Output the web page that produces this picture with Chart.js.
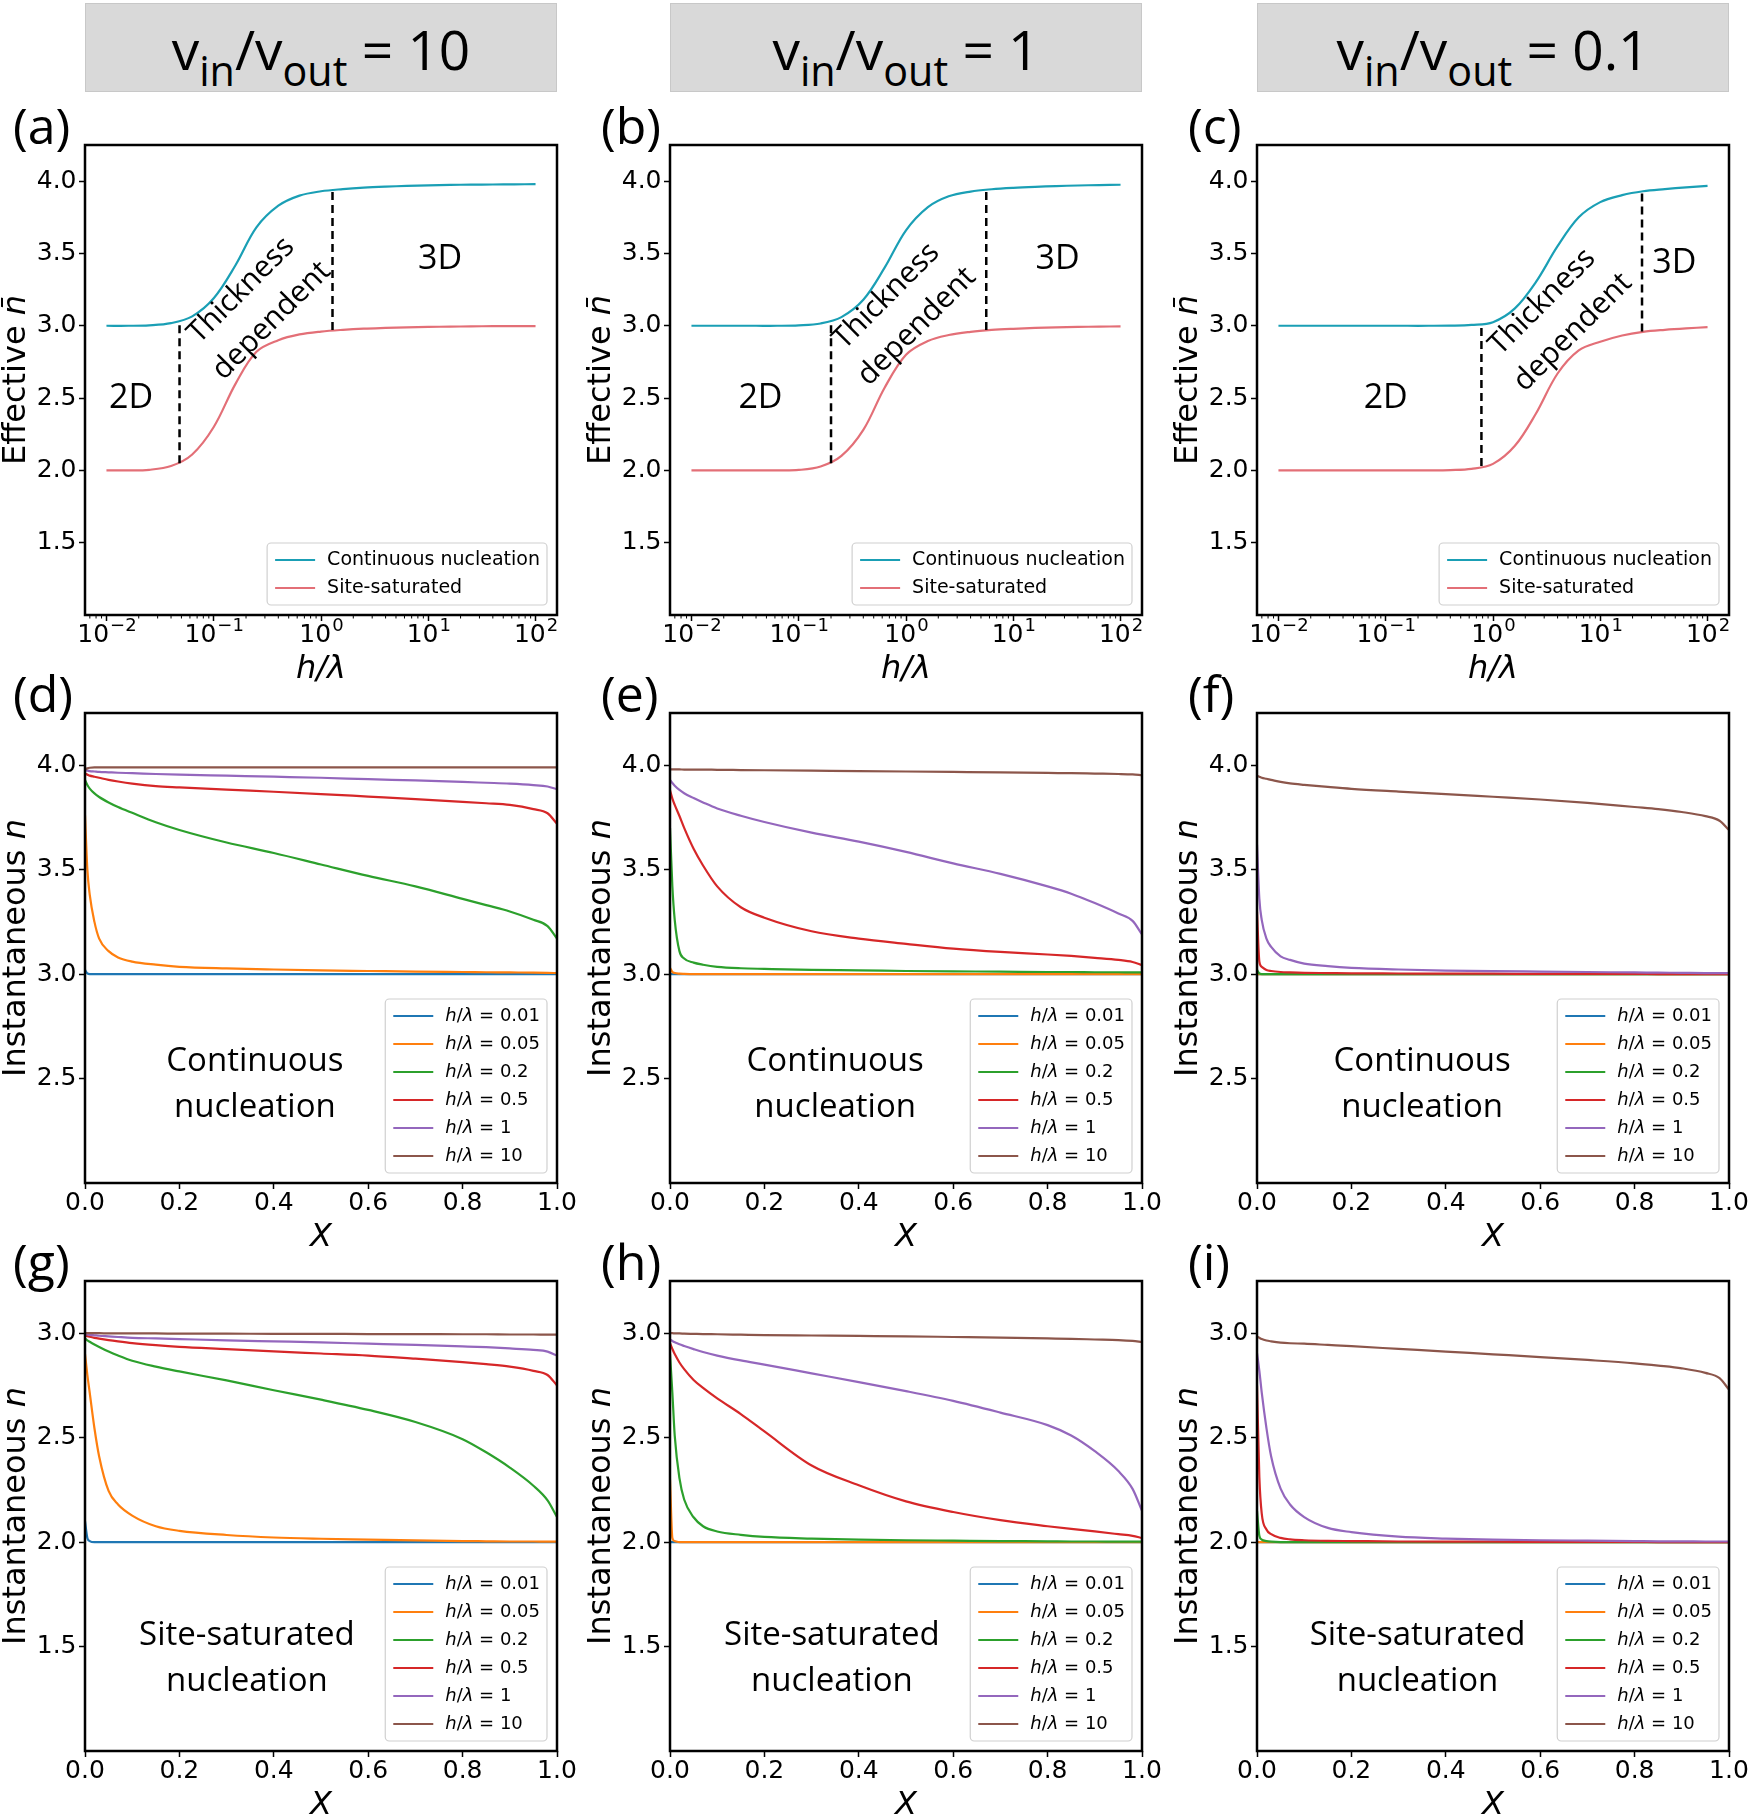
<!DOCTYPE html>
<html>
<head>
<meta charset="utf-8">
<script src="https://cdn.jsdelivr.net/npm/chart.js@4.4.1/dist/chart.umd.min.js"></script>
<style>
	body { margin: 0; width: 1750px; height: 1817px; position: relative; overflow: hidden; background: #fff; font-family: 'Open Sans', sans-serif; }
	.hdr { position: absolute; top: 3px; height: 89px; box-sizing: border-box; padding-top: 17px; background: #d9d9d9; border: 1px solid #c8c8c8; text-align: center; font-size: 55px; line-height: 55px; color: #000; white-space: nowrap; }
	.hdr sub { font-size: 0.75em; vertical-align: -16px; line-height: 0; }
	.lbl { position: absolute; font-size: 50px; line-height: 50px; color: #000; }
	canvas { position: absolute; }
</style>
</head>
<body>
<div class="hdr" style="left:85px;width:472px">v<sub>in</sub>/v<sub>out</sub> = 10</div>
<div class="hdr" style="left:670px;width:472px">v<sub>in</sub>/v<sub>out</sub> = 1</div>
<div class="hdr" style="left:1257px;width:472px">v<sub>in</sub>/v<sub>out</sub> = 0.1</div>

<div class="lbl" style="left:13px;top:100px">(a)</div>
<div class="lbl" style="left:601px;top:100px">(b)</div>
<div class="lbl" style="left:1188px;top:100px">(c)</div>
<div class="lbl" style="left:13px;top:668px">(d)</div>
<div class="lbl" style="left:601px;top:668px">(e)</div>
<div class="lbl" style="left:1188px;top:668px">(f)</div>
<div class="lbl" style="left:13px;top:1236px">(g)</div>
<div class="lbl" style="left:601px;top:1236px">(h)</div>
<div class="lbl" style="left:1188px;top:1236px">(i)</div>

<canvas id="pa" width="586" height="557" style="left:1px;top:130px"></canvas>
<canvas id="pb" width="586" height="557" style="left:586px;top:130px"></canvas>
<canvas id="pc" width="586" height="557" style="left:1173px;top:130px"></canvas>
<canvas id="pd" width="586" height="557" style="left:1px;top:698px"></canvas>
<canvas id="pe" width="586" height="557" style="left:586px;top:698px"></canvas>
<canvas id="pf" width="586" height="557" style="left:1173px;top:698px"></canvas>
<canvas id="pg" width="586" height="557" style="left:1px;top:1266px"></canvas>
<canvas id="ph" width="586" height="557" style="left:586px;top:1266px"></canvas>
<canvas id="pi" width="586" height="557" style="left:1173px;top:1266px"></canvas>

<script>
// ---- top row: effective n vs h/lambda ----
const hOverLambda = [0.01, 0.016, 0.025, 0.04, 0.063, 0.1, 0.16, 0.25, 0.4, 0.63, 1, 1.6, 2.5, 4, 6.3, 10, 16, 25, 40, 63, 100];
const effCont_v10 = [3.0, 3.0, 3.003, 3.018, 3.065, 3.19, 3.42, 3.68, 3.83, 3.90, 3.93, 3.945, 3.955, 3.962, 3.967, 3.971, 3.974, 3.976, 3.977, 3.978, 3.979];
const effSite_v10 = [2.0, 2.0, 2.004, 2.03, 2.11, 2.30, 2.60, 2.82, 2.90, 2.94, 2.96, 2.972, 2.98, 2.985, 2.989, 2.992, 2.994, 2.996, 2.997, 2.998, 2.998];
const effCont_v1 = [3.0, 3.0, 3.0, 3.0, 3.0, 3.003, 3.016, 3.06, 3.18, 3.40, 3.66, 3.82, 3.895, 3.928, 3.944, 3.954, 3.961, 3.966, 3.970, 3.973, 3.975];
const effSite_v1 = [2.0, 2.0, 2.0, 2.0, 2.0, 2.003, 2.027, 2.10, 2.28, 2.57, 2.80, 2.895, 2.936, 2.958, 2.971, 2.979, 2.985, 2.989, 2.992, 2.994, 2.996];
const effCont_v01 = [3.0, 3.0, 3.0, 3.0, 3.0, 3.0, 3.0, 3.0, 3.001, 3.006, 3.025, 3.12, 3.30, 3.55, 3.75, 3.855, 3.903, 3.93, 3.945, 3.957, 3.967];
const effSite_v01 = [2.0, 2.0, 2.0, 2.0, 2.0, 2.0, 2.0, 2.0, 2.002, 2.01, 2.045, 2.17, 2.39, 2.67, 2.83, 2.89, 2.933, 2.958, 2.972, 2.982, 2.99];
// regime boundaries: [h/lambda, lower n, upper n]
const bounds_v10 = [[0.048, 2.05, 3.03], [1.28, 2.97, 3.935]];
const bounds_v1 = [[0.2, 2.05, 3.03], [5.6, 2.97, 3.93]];
const bounds_v01 = [[0.78, 2.03, 3.01], [24.5, 2.96, 3.93]];
const effLabels = ['Continuous nucleation', 'Site-saturated'];
const effColors = ['#1a9fb5', '#e36f77'];

// ---- rows 2 and 3: instantaneous n vs X ----
const Xfrac = [0, 0.005, 0.01, 0.02, 0.03, 0.05, 0.07, 0.1, 0.15, 0.2, 0.3, 0.4, 0.5, 0.6, 0.7, 0.8, 0.85, 0.9, 0.95, 0.98, 1.0];
const hLabels = ['h/λ = 0.01', 'h/λ = 0.05', 'h/λ = 0.2', 'h/λ = 0.5', 'h/λ = 1', 'h/λ = 10'];
const hColors = ['#1f77b4', '#ff7f0e', '#2ca02c', '#d62728', '#9467bd', '#8c564b'];

const instCont_v10 = [
	[3.02, 3.003, 3.0, 3.0, 3.0, 3.0, 3.0, 3.0, 3.0, 3.0, 3.0, 3.0, 3.0, 3.0, 3.0, 3.0, 3.0, 3.0, 3.0, 3.0, 3.0],
	[3.76, 3.5, 3.38, 3.25, 3.17, 3.11, 3.08, 3.06, 3.045, 3.035, 3.027, 3.022, 3.018, 3.015, 3.012, 3.01, 3.009, 3.008, 3.007, 3.006, 3.005],
	[3.93, 3.905, 3.888, 3.865, 3.848, 3.822, 3.80, 3.772, 3.727, 3.69, 3.63, 3.58, 3.525, 3.47, 3.42, 3.36, 3.33, 3.30, 3.26, 3.23, 3.17],
	[3.96, 3.955, 3.95, 3.945, 3.94, 3.93, 3.922, 3.912, 3.90, 3.894, 3.883, 3.873, 3.862, 3.85, 3.838, 3.825, 3.818, 3.81, 3.79, 3.77, 3.72],
	[3.975, 3.974, 3.972, 3.97, 3.968, 3.966, 3.964, 3.962, 3.958, 3.955, 3.95, 3.945, 3.94, 3.933, 3.927, 3.92, 3.916, 3.912, 3.905, 3.898, 3.885],
	[3.98, 3.985, 3.988, 3.99, 3.99, 3.99, 3.99, 3.99, 3.99, 3.99, 3.99, 3.99, 3.99, 3.99, 3.99, 3.99, 3.99, 3.99, 3.99, 3.99, 3.99]
];
const instCont_v1 = [
	[3.0, 3.0, 3.0, 3.0, 3.0, 3.0, 3.0, 3.0, 3.0, 3.0, 3.0, 3.0, 3.0, 3.0, 3.0, 3.0, 3.0, 3.0, 3.0, 3.0, 3.0],
	[3.03, 3.01, 3.005, 3.002, 3.001, 3.0, 3.0, 3.0, 3.0, 3.0, 3.0, 3.0, 3.0, 3.0, 3.0, 3.0, 3.0, 3.0, 3.0, 3.0, 3.0],
	[3.70, 3.42, 3.26, 3.11, 3.075, 3.055, 3.045, 3.035, 3.028, 3.025, 3.02, 3.018, 3.015, 3.013, 3.012, 3.01, 3.01, 3.009, 3.009, 3.008, 3.008],
	[3.88, 3.84, 3.81, 3.757, 3.70, 3.60, 3.52, 3.42, 3.32, 3.27, 3.205, 3.17, 3.145, 3.122, 3.106, 3.094, 3.087, 3.078, 3.068, 3.058, 3.043],
	[3.93, 3.915, 3.902, 3.882, 3.866, 3.843, 3.822, 3.793, 3.758, 3.728, 3.677, 3.634, 3.585, 3.53, 3.48, 3.42, 3.385, 3.34, 3.29, 3.255, 3.19],
	[3.98, 3.98, 3.98, 3.98, 3.979, 3.979, 3.979, 3.978, 3.977, 3.976, 3.974, 3.972, 3.97, 3.968, 3.966, 3.963, 3.962, 3.96, 3.958, 3.956, 3.953]
];
const instCont_v01 = [
	[3.0, 3.0, 3.0, 3.0, 3.0, 3.0, 3.0, 3.0, 3.0, 3.0, 3.0, 3.0, 3.0, 3.0, 3.0, 3.0, 3.0, 3.0, 3.0, 3.0, 3.0],
	[3.0, 3.0, 3.0, 3.0, 3.0, 3.0, 3.0, 3.0, 3.0, 3.0, 3.0, 3.0, 3.0, 3.0, 3.0, 3.0, 3.0, 3.0, 3.0, 3.0, 3.0],
	[3.02, 3.003, 3.0, 3.0, 3.0, 3.0, 3.0, 3.0, 3.0, 3.0, 3.0, 3.0, 3.0, 3.0, 3.0, 3.0, 3.0, 3.0, 3.0, 3.0, 3.0],
	[3.30, 3.06, 3.035, 3.02, 3.015, 3.01, 3.008, 3.006, 3.005, 3.004, 3.003, 3.002, 3.002, 3.001, 3.001, 3.001, 3.0, 3.0, 3.0, 3.0, 3.0],
	[3.62, 3.36, 3.26, 3.17, 3.13, 3.085, 3.068, 3.05, 3.038, 3.03, 3.022, 3.017, 3.014, 3.012, 3.01, 3.008, 3.007, 3.006, 3.005, 3.005, 3.005],
	[3.95, 3.945, 3.94, 3.935, 3.93, 3.92, 3.913, 3.906, 3.896, 3.887, 3.874, 3.862, 3.849, 3.836, 3.82, 3.80, 3.79, 3.776, 3.756, 3.734, 3.69]
];
const instSite_v10 = [
	[2.10, 2.02, 2.005, 2.0, 2.0, 2.0, 2.0, 2.0, 2.0, 2.0, 2.0, 2.0, 2.0, 2.0, 2.0, 2.0, 2.0, 2.0, 2.0, 2.0, 2.0],
	[2.90, 2.80, 2.715, 2.545, 2.41, 2.245, 2.18, 2.127, 2.076, 2.054, 2.034, 2.022, 2.016, 2.012, 2.008, 2.005, 2.004, 2.003, 2.003, 2.002, 2.002],
	[2.975, 2.966, 2.959, 2.946, 2.934, 2.912, 2.893, 2.868, 2.84, 2.817, 2.774, 2.727, 2.682, 2.633, 2.575, 2.493, 2.43, 2.357, 2.27, 2.20, 2.12],
	[2.99, 2.986, 2.983, 2.978, 2.974, 2.967, 2.961, 2.953, 2.943, 2.935, 2.924, 2.913, 2.903, 2.893, 2.878, 2.862, 2.852, 2.84, 2.82, 2.80, 2.75],
	[2.995, 2.994, 2.992, 2.99, 2.988, 2.985, 2.982, 2.978, 2.975, 2.972, 2.966, 2.961, 2.956, 2.95, 2.944, 2.937, 2.933, 2.927, 2.92, 2.912, 2.893],
	[3.0, 3.0, 3.0, 3.0, 3.0, 2.999, 2.999, 2.999, 2.999, 2.998, 2.998, 2.997, 2.997, 2.996, 2.996, 2.995, 2.995, 2.994, 2.994, 2.993, 2.993]
];
const instSite_v1 = [
	[2.0, 2.0, 2.0, 2.0, 2.0, 2.0, 2.0, 2.0, 2.0, 2.0, 2.0, 2.0, 2.0, 2.0, 2.0, 2.0, 2.0, 2.0, 2.0, 2.0, 2.0],
	[2.30, 2.02, 2.005, 2.0, 2.0, 2.0, 2.0, 2.0, 2.0, 2.0, 2.0, 2.0, 2.0, 2.0, 2.0, 2.0, 2.0, 2.0, 2.0, 2.0, 2.0],
	[2.90, 2.715, 2.51, 2.306, 2.204, 2.119, 2.076, 2.051, 2.035, 2.025, 2.017, 2.012, 2.009, 2.007, 2.005, 2.004, 2.003, 2.003, 2.002, 2.002, 2.002],
	[2.952, 2.925, 2.9, 2.86, 2.828, 2.776, 2.738, 2.688, 2.613, 2.53, 2.367, 2.272, 2.195, 2.144, 2.105, 2.076, 2.063, 2.051, 2.038, 2.03, 2.02],
	[2.97, 2.963, 2.957, 2.947, 2.939, 2.924, 2.91, 2.893, 2.87, 2.85, 2.808, 2.766, 2.723, 2.676, 2.62, 2.56, 2.51, 2.435, 2.34, 2.255, 2.15],
	[3.0, 3.0, 2.999, 2.999, 2.998, 2.997, 2.996, 2.995, 2.993, 2.991, 2.989, 2.987, 2.985, 2.982, 2.979, 2.975, 2.973, 2.97, 2.967, 2.963, 2.958]
];
const instSite_v01 = [
	[2.0, 2.0, 2.0, 2.0, 2.0, 2.0, 2.0, 2.0, 2.0, 2.0, 2.0, 2.0, 2.0, 2.0, 2.0, 2.0, 2.0, 2.0, 2.0, 2.0, 2.0],
	[2.0, 2.0, 2.0, 2.0, 2.0, 2.0, 2.0, 2.0, 2.0, 2.0, 2.0, 2.0, 2.0, 2.0, 2.0, 2.0, 2.0, 2.0, 2.0, 2.0, 2.0],
	[2.15, 2.03, 2.012, 2.005, 2.002, 2.0, 2.0, 2.0, 2.0, 2.0, 2.0, 2.0, 2.0, 2.0, 2.0, 2.0, 2.0, 2.0, 2.0, 2.0, 2.0],
	[2.75, 2.31, 2.137, 2.06, 2.038, 2.02, 2.013, 2.009, 2.006, 2.005, 2.003, 2.002, 2.002, 2.001, 2.001, 2.001, 2.0, 2.0, 2.0, 2.0, 2.0],
	[2.905, 2.82, 2.717, 2.546, 2.41, 2.256, 2.18, 2.12, 2.068, 2.048, 2.026, 2.017, 2.012, 2.009, 2.007, 2.005, 2.004, 2.004, 2.003, 2.003, 2.003],
	[2.985, 2.978, 2.972, 2.965, 2.961, 2.955, 2.952, 2.95, 2.944, 2.938, 2.925, 2.912, 2.899, 2.886, 2.872, 2.856, 2.845, 2.832, 2.81, 2.785, 2.73]
];

// ---- axes ----
const logTicks = [0.01, 0.1, 1, 10, 100];
const logTickExp = ['\u22122', '\u22121', '0', '1', '2'];
const fracTicks = [0, 0.2, 0.4, 0.6, 0.8, 1.0];
const effYTicks = [1.5, 2.0, 2.5, 3.0, 3.5, 4.0];
const contYTicks = [2.5, 3.0, 3.5, 4.0];
const siteYTicks = [1.5, 2.0, 2.5, 3.0];

const TICK_SIZE = 25;
const TICK_FONT = { family: 'DejaVu Sans', size: TICK_SIZE, lineHeight: 1 };

function mathSegments(label) {
	return label.split('').reduce((segs, ch) => {
		const it = ch === 'h' || ch === 'λ';
		const last = segs[segs.length - 1];
		if (last && last[1] === it) last[0] += ch;
		else segs.push([ch, it]);
		return segs;
	}, []);
}

function drawSegments(ctx, segs, x, y, size, center) {
	const fontOf = it => (it ? 'italic ' : '') + size + 'px "DejaVu Sans"';
	let total = 0;
	segs.forEach(([t, it]) => { ctx.font = fontOf(it); total += ctx.measureText(t).width; });
	let tx = center ? x - total / 2 : x;
	segs.forEach(([t, it]) => {
		ctx.font = fontOf(it);
		ctx.fillText(t, tx, y);
		tx += ctx.measureText(t).width;
	});
	return total;
}

const panelDecor = {
	id: 'panelDecor',
	afterDraw(chart, args, opts) {
		const ctx = chart.ctx;
		const a = chart.chartArea;
		const xs = chart.scales.x;
		const ys = chart.scales.y;
		ctx.save();
		ctx.fillStyle = '#000';
		ctx.strokeStyle = '#000';

		// log axis: minor ticks and 10^k labels
		if (opts.log) {
			ctx.lineWidth = 1;
			const lo = Math.floor(Math.log10(xs.min));
			const hi = Math.ceil(Math.log10(xs.max));
			for (let e = lo; e < hi; e++) {
				for (let k = 2; k < 10; k++) {
					const v = k * Math.pow(10, e);
					if (v < xs.min || v > xs.max) continue;
					const px = xs.getPixelForValue(v);
					ctx.beginPath();
					ctx.moveTo(px, a.bottom);
					ctx.lineTo(px, a.bottom + 3.5);
					ctx.stroke();
				}
			}
			ctx.textAlign = 'left';
			ctx.textBaseline = 'alphabetic';
			const supSize = Math.round(TICK_SIZE * 0.7);
			logTicks.forEach((v, i) => {
				ctx.font = TICK_SIZE + 'px "DejaVu Sans"';
				const wBase = ctx.measureText('10').width;
				ctx.font = supSize + 'px "DejaVu Sans"';
				const wSup = ctx.measureText(logTickExp[i]).width;
				const x0 = xs.getPixelForValue(v) - (wBase + wSup) / 2;
				const base = a.bottom + 27;
				ctx.font = TICK_SIZE + 'px "DejaVu Sans"';
				ctx.fillText('10', x0, base);
				ctx.font = supSize + 'px "DejaVu Sans"';
				ctx.fillText(logTickExp[i], x0 + wBase + 1, base - 11);
			});
		}

		// text notes in data coordinates
		ctx.textAlign = 'center';
		ctx.textBaseline = 'middle';
		(opts.notes || []).forEach(n => {
			ctx.save();
			ctx.translate(xs.getPixelForValue(n.x), ys.getPixelForValue(n.y));
			ctx.rotate((n.rot || 0) * Math.PI / 180);
			ctx.font = n.size + 'px "Open Sans"';
			n.text.forEach((t, i) => ctx.fillText(t, 0, (i - (n.text.length - 1) / 2) * n.lh));
			ctx.restore();
		});

		// legend inside the axes, lower right
		const items = chart.data.datasets.filter(d => !d.noLegend);
		if (items.length) {
			const size = opts.legendSize;
			ctx.textAlign = 'left';
			const segs = items.map(d => (d.mathLabel ? mathSegments(d.label) : [[d.label, false]]));
			const widths = segs.map(sg => sg.reduce((w, [t, it]) => {
				ctx.font = (it ? 'italic ' : '') + size + 'px "DejaVu Sans"';
				return w + ctx.measureText(t).width;
			}, 0));
			const rowH = 28, padX = 8, sample = 40, gap = 12, padR = 7, padY = 3;
			const bw = padX + sample + gap + Math.max(...widths) + padR;
			const bh = items.length * rowH + 2 * padY;
			const bx = a.right - 10 - bw;
			const by = a.bottom - 10 - bh;
			ctx.beginPath();
			ctx.roundRect(bx, by, bw, bh, 4);
			ctx.fillStyle = 'rgba(255,255,255,0.8)';
			ctx.fill();
			ctx.lineWidth = 1.2;
			ctx.strokeStyle = '#d0d0d0';
			ctx.stroke();
			ctx.fillStyle = '#000';
			items.forEach((d, i) => {
				const cy = by + padY + rowH * (i + 0.5);
				ctx.beginPath();
				ctx.strokeStyle = d.borderColor;
				ctx.lineWidth = 2.2;
				ctx.moveTo(bx + padX, cy);
				ctx.lineTo(bx + padX + sample, cy);
				ctx.stroke();
				drawSegments(ctx, segs[i], bx + padX + sample + gap, cy, size, false);
			});
		}

		// y axis title, with the italic symbol
		if (opts.yTitle) {
			ctx.save();
			ctx.translate(a.left - 68.5, (a.top + a.bottom) / 2);
			ctx.rotate(-Math.PI / 2);
			ctx.textAlign = 'left';
			ctx.textBaseline = 'middle';
			ctx.fillStyle = '#000';
			drawSegments(ctx, opts.yTitle, 0, 0, 32, true);
			ctx.restore();
		}

		// axes frame
		ctx.strokeStyle = '#000';
		ctx.lineWidth = 2.5;
		ctx.strokeRect(a.left, a.top, a.right - a.left, a.bottom - a.top);
		ctx.restore();
	}
};

function buildPanel(id, cfg) {
	const datasets = cfg.series.map((values, i) => ({
		label: cfg.labels[i],
		data: cfg.xs.map((x, k) => ({ x: x, y: values[k] })),
		borderColor: cfg.colors[i],
		backgroundColor: cfg.colors[i],
		borderWidth: 2.2,
		pointRadius: 0,
		fill: false,
		cubicInterpolationMode: cfg.log ? 'default' : 'monotone',
		tension: cfg.log ? 0.35 : 0,
		order: 20 - i,
		mathLabel: !!cfg.mathLabel,
	}));
	(cfg.bounds || []).forEach(b => {
		datasets.push({
			label: '',
			noLegend: true,
			data: [{ x: b[0], y: b[1] }, { x: b[0], y: b[2] }],
			borderColor: '#000',
			borderWidth: 2.5,
			borderDash: [8, 5],
			pointRadius: 0,
			fill: false,
			order: 0,
		});
	});
	const config = {
		type: 'line',
		data: { datasets: datasets },
		options: {
			responsive: false,
			animation: false,
			events: [],
			layout: { padding: { left: 0, top: 15, right: 30, bottom: 0 } },
			plugins: {
				legend: { display: false },
				tooltip: { enabled: false },
				panelDecor: { log: cfg.log, notes: cfg.notes, yTitle: cfg.yTitle, legendSize: cfg.legendSize },
			},
			scales: {
				x: {
					type: cfg.log ? 'logarithmic' : 'linear',
					min: cfg.xMin,
					max: cfg.xMax,
					afterBuildTicks: s => { s.ticks = cfg.xTicks.map(v => ({ value: v })); },
					afterFit: s => { s.height = 72; },
					ticks: {
						display: !cfg.log,
						callback: (v, i) => cfg.xTickLabels[i],
						font: TICK_FONT,
						color: '#000',
						padding: 2,
						maxRotation: 0,
						autoSkip: false,
					},
					grid: { display: true, drawOnChartArea: false, drawTicks: true, tickLength: 6, color: '#000', tickColor: '#000', tickWidth: 1.5 },
					border: { display: false },
					title: {
						display: true,
						text: cfg.xTitle,
						color: '#000',
						font: { family: 'DejaVu Sans', size: 32, style: 'italic', lineHeight: 1 },
						padding: { top: 0, bottom: 1.5 },
					},
				},
				y: {
					type: 'linear',
					min: cfg.yMin,
					max: cfg.yMax,
					afterBuildTicks: s => { s.ticks = cfg.yTicks.map(v => ({ value: v })); },
					afterFit: s => { s.width = 84; },
					ticks: {
						callback: v => v.toFixed(1),
						font: TICK_FONT,
						color: '#000',
						padding: 2.5,
						autoSkip: false,
					},
					grid: { display: true, drawOnChartArea: false, drawTicks: true, tickLength: 6, color: '#000', tickColor: '#000', tickWidth: 1.5 },
					border: { display: false },
				},
			},
		},
		plugins: [panelDecor],
	};
	new Chart(document.getElementById(id), config);
}

const effTitle = [['Effective ', false], ['n\u0304', true]];
const instTitle = [['Instantaneous ', false], ['n', true]];

function effPanel(id, cont, site, bounds, notes) {
	buildPanel(id, {
		log: true, xs: hOverLambda, series: [cont, site], labels: effLabels, colors: effColors,
		bounds: bounds, notes: notes, legendSize: 19,
		xMin: Math.pow(10, -2.2), xMax: Math.pow(10, 2.2), xTicks: logTicks, xTickLabels: logTicks.map(String),
		yMin: 1.0, yMax: 4.25, yTicks: effYTicks, xTitle: 'h/λ', yTitle: effTitle,
	});
}

function instPanel(id, series, yMin, yMax, yTicks, notes) {
	buildPanel(id, {
		log: false, xs: Xfrac, series: series, labels: hLabels, colors: hColors, mathLabel: true,
		notes: notes, legendSize: 18,
		xMin: 0, xMax: 1, xTicks: fracTicks, xTickLabels: fracTicks.map(v => v.toFixed(1)),
		yMin: yMin, yMax: yMax, yTicks: yTicks, xTitle: 'X', yTitle: instTitle,
	});
}

function regimeNotes(x2d, x3d, y3d, xTd, yTd) {
	return [
		{ text: ['2D'], x: x2d, y: 2.5, size: 34, lh: 0 },
		{ text: ['3D'], x: x3d, y: y3d, size: 34, lh: 0 },
		{ text: ['Thickness', 'dependent'], x: xTd, y: yTd, size: 30, lh: 43, rot: -45 },
	];
}

effPanel('pa', effCont_v10, effSite_v10, bounds_v10, regimeNotes(0.017, 12.9, 3.46, 0.25, 3.14));
effPanel('pb', effCont_v1, effSite_v1, bounds_v1, regimeNotes(0.044, 25.9, 3.46, 0.91, 3.10));
effPanel('pc', effCont_v01, effSite_v01, bounds_v01, regimeNotes(0.1, 49, 3.43, 4.0, 3.06));

const contNote = x => [{ text: ['Continuous', 'nucleation'], x: x, y: 2.47, size: 33, lh: 46 }];
const siteNote = x => [{ text: ['Site-saturated', 'nucleation'], x: x, y: 1.44, size: 33, lh: 46 }];

instPanel('pd', instCont_v10, 2.0, 4.25, contYTicks, contNote(0.36));
instPanel('pe', instCont_v1, 2.0, 4.25, contYTicks, contNote(0.35));
instPanel('pf', instCont_v01, 2.0, 4.25, contYTicks, contNote(0.35));
instPanel('pg', instSite_v10, 1.0, 3.25, siteYTicks, siteNote(0.343));
instPanel('ph', instSite_v1, 1.0, 3.25, siteYTicks, siteNote(0.343));
instPanel('pi', instSite_v01, 1.0, 3.25, siteYTicks, siteNote(0.34));
</script>
</body>
</html>
